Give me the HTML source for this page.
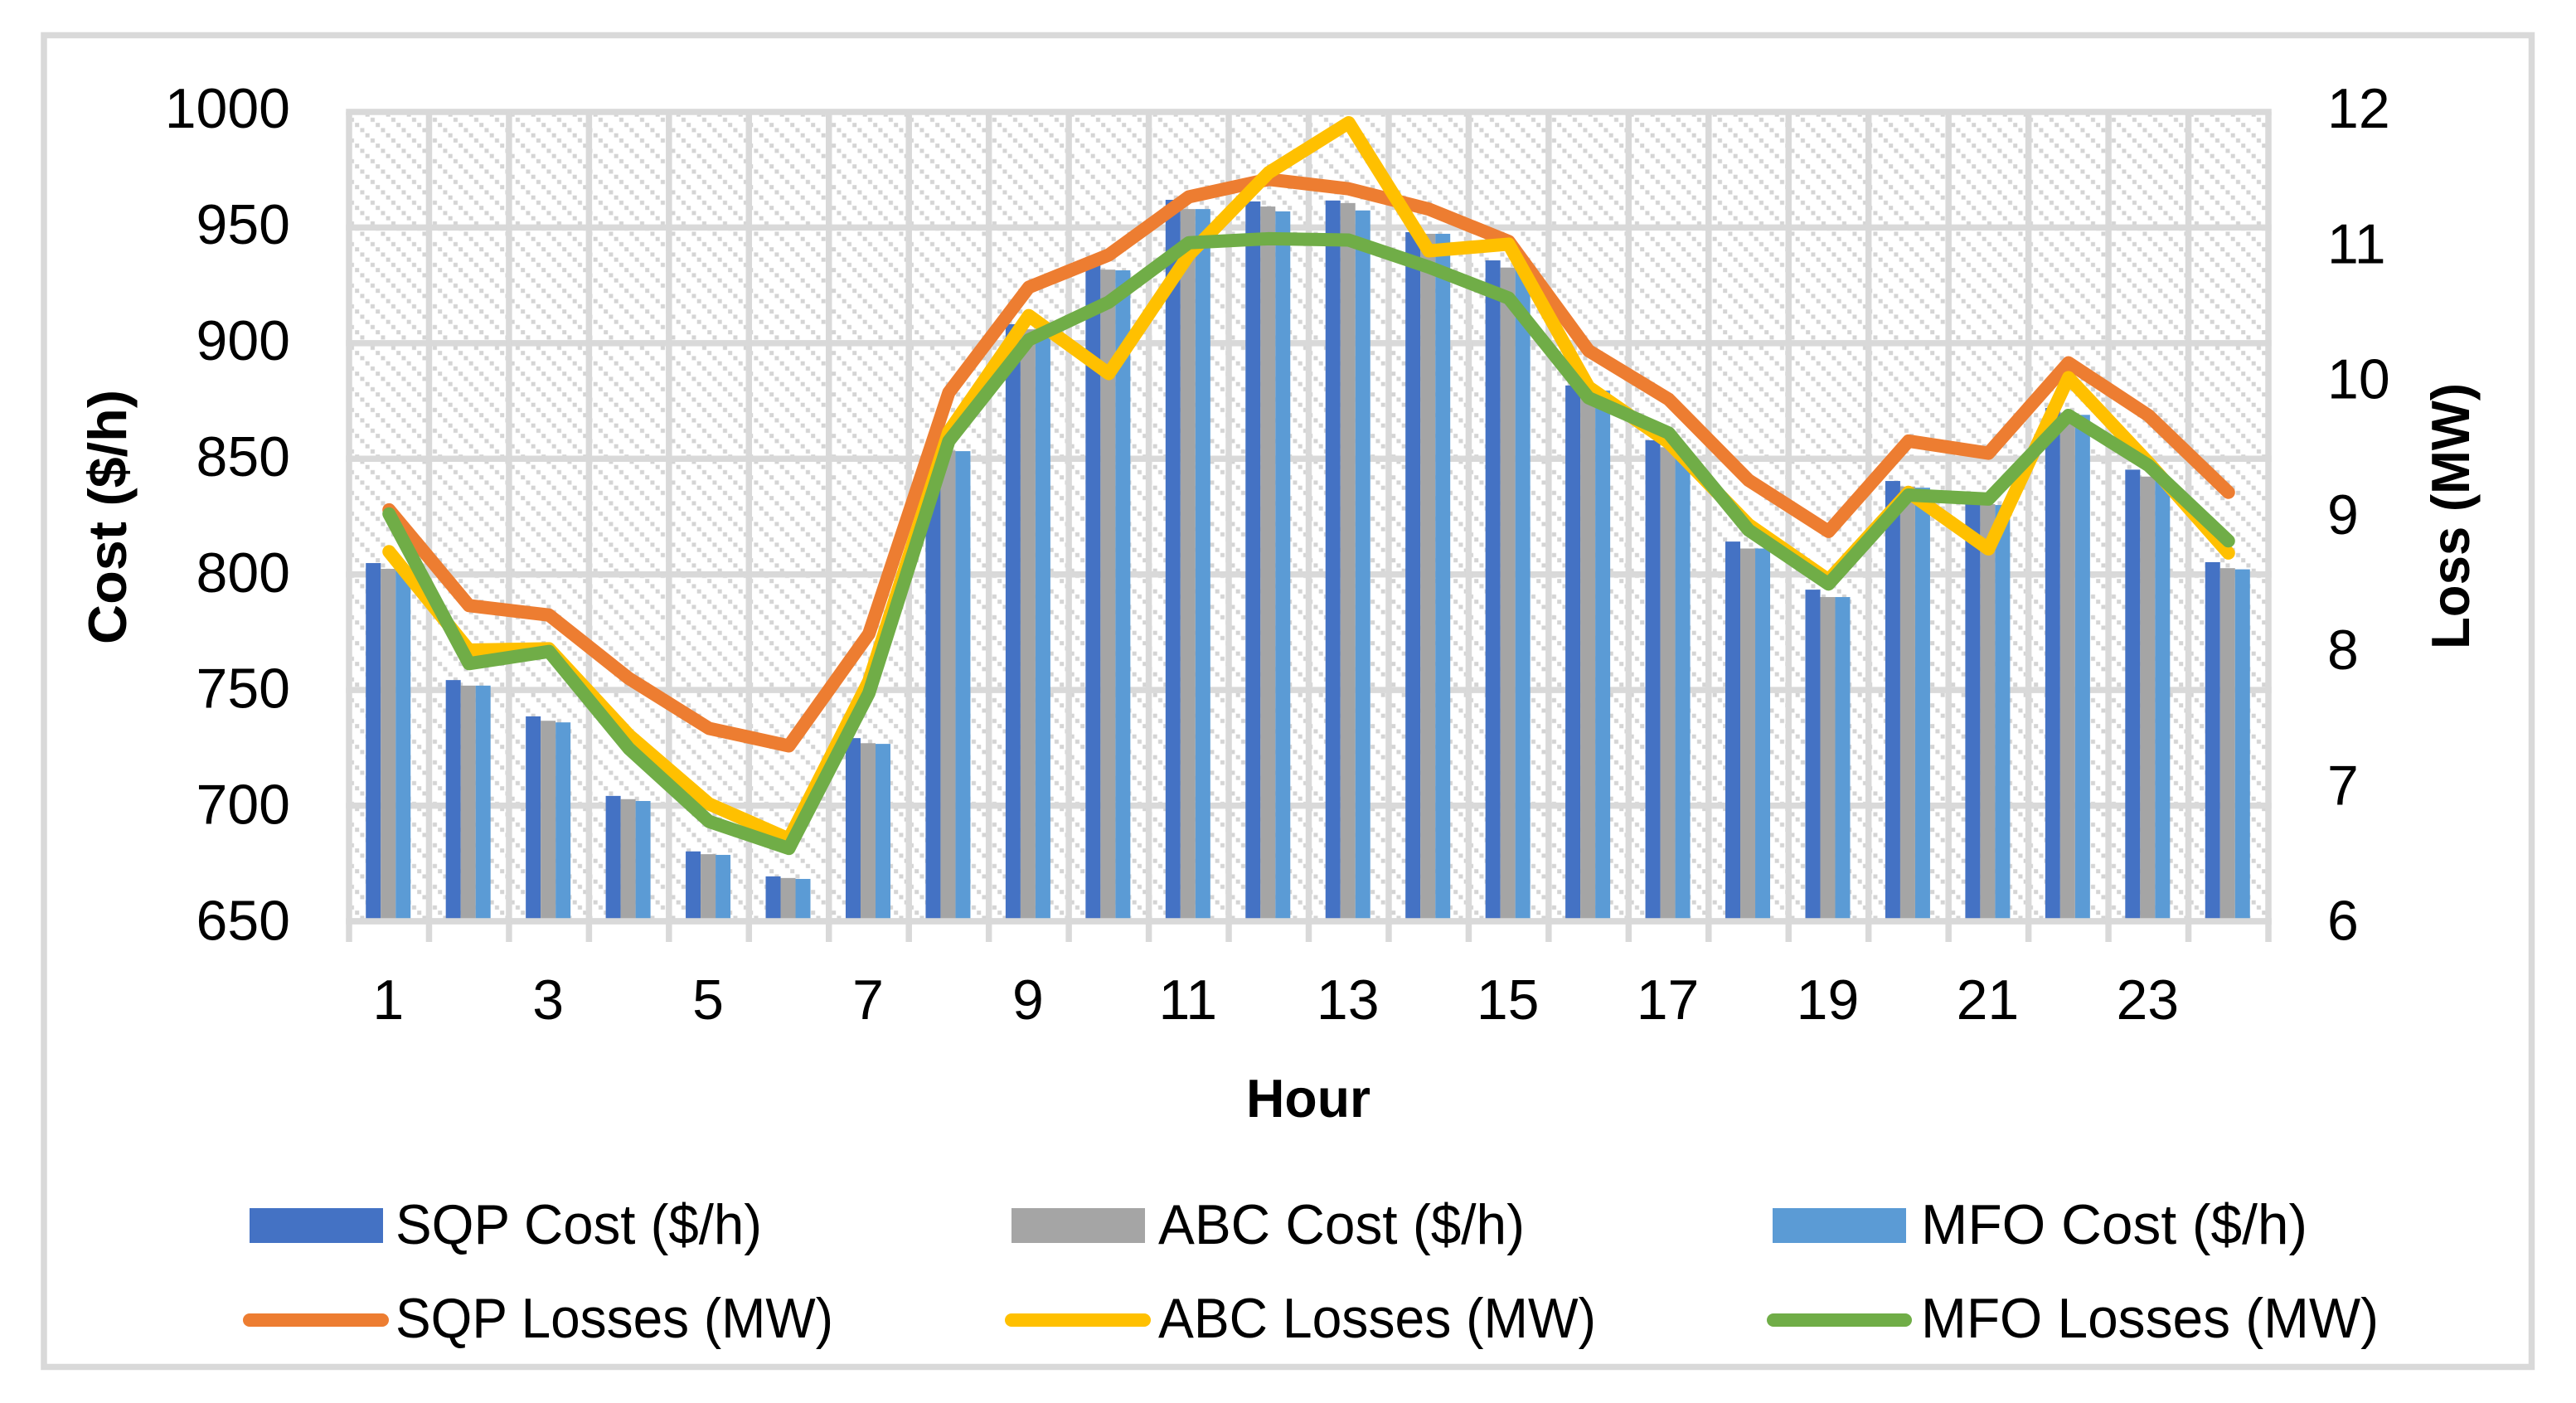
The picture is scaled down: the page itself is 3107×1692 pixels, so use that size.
<!DOCTYPE html>
<html lang="en">
<head>
<meta charset="utf-8">
<title>Cost and Losses by Hour</title>
<style>
  html, body { margin: 0; padding: 0; background: #fff; }
  body { width: 3107px; height: 1692px; overflow: hidden; }
  svg { display: block; }
  text { font-family: "Liberation Sans", sans-serif; fill: #000; }
</style>
</head>
<body>
<svg id="chart" xmlns="http://www.w3.org/2000/svg" width="3107" height="1692" viewBox="0 0 3107 1692">
  <defs>
    <pattern id="hatch" patternUnits="userSpaceOnUse" x="2.7" y="-2.3" width="25" height="25">
      <rect x="0.5" y="0.5" width="5" height="5" fill="#d4d4d4"/>
      <rect x="6.75" y="6.75" width="5" height="5" fill="#d4d4d4"/>
      <rect x="13" y="13" width="5" height="5" fill="#d4d4d4"/>
      <rect x="19.25" y="19.25" width="5" height="5" fill="#d4d4d4"/>
    </pattern>
  </defs>
  <rect x="0" y="0" width="3107" height="1692" fill="#ffffff"/>
  <rect x="53" y="42.5" width="3000.5" height="1606" fill="#ffffff" stroke="#d9d9d9" stroke-width="7.5"/>
  <rect x="421" y="135" width="2315" height="976" fill="url(#hatch)"/>
  <g id="grid"></g>
  <g id="bars"></g>
  <g id="axisLines"></g>
  <g id="lines"></g>
  <g id="yLeftLabels" font-size="68" text-anchor="end"></g>
  <g id="yRightLabels" font-size="68" text-anchor="start"></g>
  <g id="xLabels" font-size="68" text-anchor="middle"></g>

  <text x="152" y="623.5" transform="rotate(-90 152 623.5)" font-size="65" font-weight="700" text-anchor="middle" textLength="307" lengthAdjust="spacingAndGlyphs">Cost ($/h)</text>
  <text x="2978" y="622.5" transform="rotate(-90 2978 622.5)" font-size="65" font-weight="700" text-anchor="middle" textLength="321" lengthAdjust="spacingAndGlyphs">Loss (MW)</text>
  <text x="1578" y="1347" font-size="65" font-weight="700" text-anchor="middle" textLength="150" lengthAdjust="spacingAndGlyphs">Hour</text>

  <g font-size="68">
    <g>
      <rect x="301" y="1457" width="161" height="42" fill="#4472c4"/>
      <text x="477" y="1500" textLength="442" lengthAdjust="spacingAndGlyphs">SQP Cost ($/h)</text>
    </g>
    <g>
      <rect x="1220" y="1457" width="161" height="42" fill="#a5a5a5"/>
      <text x="1397" y="1500" textLength="442" lengthAdjust="spacingAndGlyphs">ABC Cost ($/h)</text>
    </g>
    <g>
      <rect x="2138" y="1457" width="161" height="42" fill="#5b9bd5"/>
      <text x="2317" y="1500" textLength="466" lengthAdjust="spacingAndGlyphs">MFO Cost ($/h)</text>
    </g>
    <g>
      <line x1="301" y1="1592" x2="461" y2="1592" stroke="#ed7d31" stroke-width="16" stroke-linecap="round"/>
      <text x="477" y="1613" textLength="528" lengthAdjust="spacingAndGlyphs">SQP Losses (MW)</text>
    </g>
    <g>
      <line x1="1220" y1="1592" x2="1380" y2="1592" stroke="#ffc000" stroke-width="16" stroke-linecap="round"/>
      <text x="1397" y="1613" textLength="528" lengthAdjust="spacingAndGlyphs">ABC Losses (MW)</text>
    </g>
    <g>
      <line x1="2139" y1="1592" x2="2298" y2="1592" stroke="#70ad47" stroke-width="16" stroke-linecap="round"/>
      <text x="2317" y="1613" textLength="552" lengthAdjust="spacingAndGlyphs">MFO Losses (MW)</text>
    </g>
  </g>
</svg>
<script>
const hours = [1,2,3,4,5,6,7,8,9,10,11,12,13,14,15,16,17,18,19,20,21,22,23,24];
const hourTickLabels = [1,3,5,7,9,11,13,15,17,19,21,23];
const costTicks = [650,700,750,800,850,900,950,1000];
const lossTicks = [6,7,8,9,10,11,12];

const sqpCost = [804.9,754.3,738.6,704.2,680.2,669.4,729.2,855,908.2,933.6,962,961.3,961.7,948,935.8,881.7,858,814.2,793.4,840.4,830.7,872,845.3,805.3];
const abcCost = [802.4,751.9,736.7,702.8,679,668.7,727,853.5,906,931.8,958,959.1,960.6,947.3,932.7,880,855,811.2,790.2,838,830.4,870,842.3,802.7];
const mfoCost = [802,751.9,736,702,678.7,668.3,726.7,853.3,905,931.5,958,957,957.4,947.3,932,879.5,854.5,811.2,790.2,837.5,830,869,842,802.2];

const sqpLoss = [9.05,8.34,8.27,7.8,7.43,7.3,8.13,9.92,10.7,10.94,11.37,11.5,11.43,11.28,11.04,10.23,9.87,9.27,8.89,9.56,9.47,10.14,9.75,9.18];
const abcLoss = [8.74,8.01,8.02,7.38,6.87,6.61,7.78,9.63,10.49,10.06,10.94,11.55,11.92,10.97,11.02,9.96,9.55,8.94,8.53,9.18,8.76,10.03,9.4,8.73];
const mfoLoss = [9.02,7.91,8,7.28,6.74,6.54,7.69,9.56,10.31,10.59,11.03,11.06,11.05,10.85,10.62,9.88,9.62,8.9,8.5,9.16,9.13,9.75,9.38,8.82];

const NS = 'http://www.w3.org/2000/svg';
const plotLeft = 421, plotRight = 2736, plotTop = 135, plotBottom = 1111, tickBottom = 1136;
const gridColor = '#d9d9d9';
const barWidth = 18;

function xBand(i) { return plotLeft + (plotRight - plotLeft) * i / hours.length; }
function xCenter(i) { return xBand(i + 0.5); }
function yCost(v) { return plotBottom - (v - 650) / 350 * (plotBottom - plotTop); }
function yLoss(v) { return plotBottom - (v - 6) / 6 * (plotBottom - plotTop); }
function costLabelBaseline(v) { return 1133.5 - (v - 650) / 350 * 979.4; }
function lossLabelBaseline(v) { return 1133.5 - (v - 6) / 6 * 979.4; }

function make(tag, parentId) {
  const el = document.createElementNS(NS, tag);
  document.getElementById(parentId).appendChild(el);
  return el;
}
function place(el, props) {
  for (const k in props) el.setAttribute(k, props[k]);
}

// horizontal gridlines
costTicks.forEach(function (v) {
  const el = make('line', 'grid');
  
  
  place(el, { x1: plotLeft - 3.75, x2: plotRight + 3.75, y1: yCost(v), y2: yCost(v), stroke: gridColor, 'stroke-width': 7.5 });
});

// vertical gridlines
for (let i = 0; i <= hours.length; i++) {
  const el = make('line', 'grid');
  
  
  place(el, { x1: xBand(i), x2: xBand(i), y1: plotTop, y2: plotBottom, stroke: gridColor, 'stroke-width': 7.5 });
}

// bars
const barSeries = [
  { values: sqpCost, color: '#4472c4', offset: -28 },
  { values: abcCost, color: '#a5a5a5', offset: -10 },
  { values: mfoCost, color: '#5b9bd5', offset: 8 }
];
barSeries.forEach(function (s) {
  s.values.forEach(function (v, i) {
    const el = make('rect', 'bars');
    
    
    place(el, { x: xCenter(i) + s.offset, y: yCost(v), width: barWidth, height: plotBottom - yCost(v), fill: s.color });
  });
});

// x axis line and tick marks
const axisEl = make('line', 'axisLines');


place(axisEl, { x1: plotLeft - 3.75, x2: plotRight + 3.75, y1: plotBottom, y2: plotBottom, stroke: gridColor, 'stroke-width': 7.5 });
for (let i = 0; i <= hours.length; i++) {
  const el = make('line', 'axisLines');
  
  
  place(el, { x1: xBand(i), x2: xBand(i), y1: plotBottom, y2: tickBottom, stroke: gridColor, 'stroke-width': 7.5 });
}

// loss lines
const lineSeries = [
  { values: sqpLoss, color: '#ed7d31' },
  { values: abcLoss, color: '#ffc000' },
  { values: mfoLoss, color: '#70ad47' }
];
lineSeries.forEach(function (s) {
  const el = make('polyline', 'lines');
  
  
  const pts = s.values.map(function (v, i) { return xCenter(i) + ',' + yLoss(v); }).join(' ');
  place(el, { points: pts, fill: 'none', stroke: s.color, 'stroke-width': 16, 'stroke-linecap': 'round', 'stroke-linejoin': 'round' });
});

// axis labels
costTicks.forEach(function (v) {
  const el = make('text', 'yLeftLabels');
  
  
  place(el, { x: 350, y: costLabelBaseline(v) });
  el.textContent = v;
});
lossTicks.forEach(function (v) {
  const el = make('text', 'yRightLabels');
  
  
  place(el, { x: 2807, y: lossLabelBaseline(v) });
  el.textContent = v;
});
hourTickLabels.forEach(function (h) {
  const el = make('text', 'xLabels');
  
  
  place(el, { x: xCenter(hours.indexOf(h)) - 1, y: 1229 });
  el.textContent = h;
});
</script>
</body>
</html>
